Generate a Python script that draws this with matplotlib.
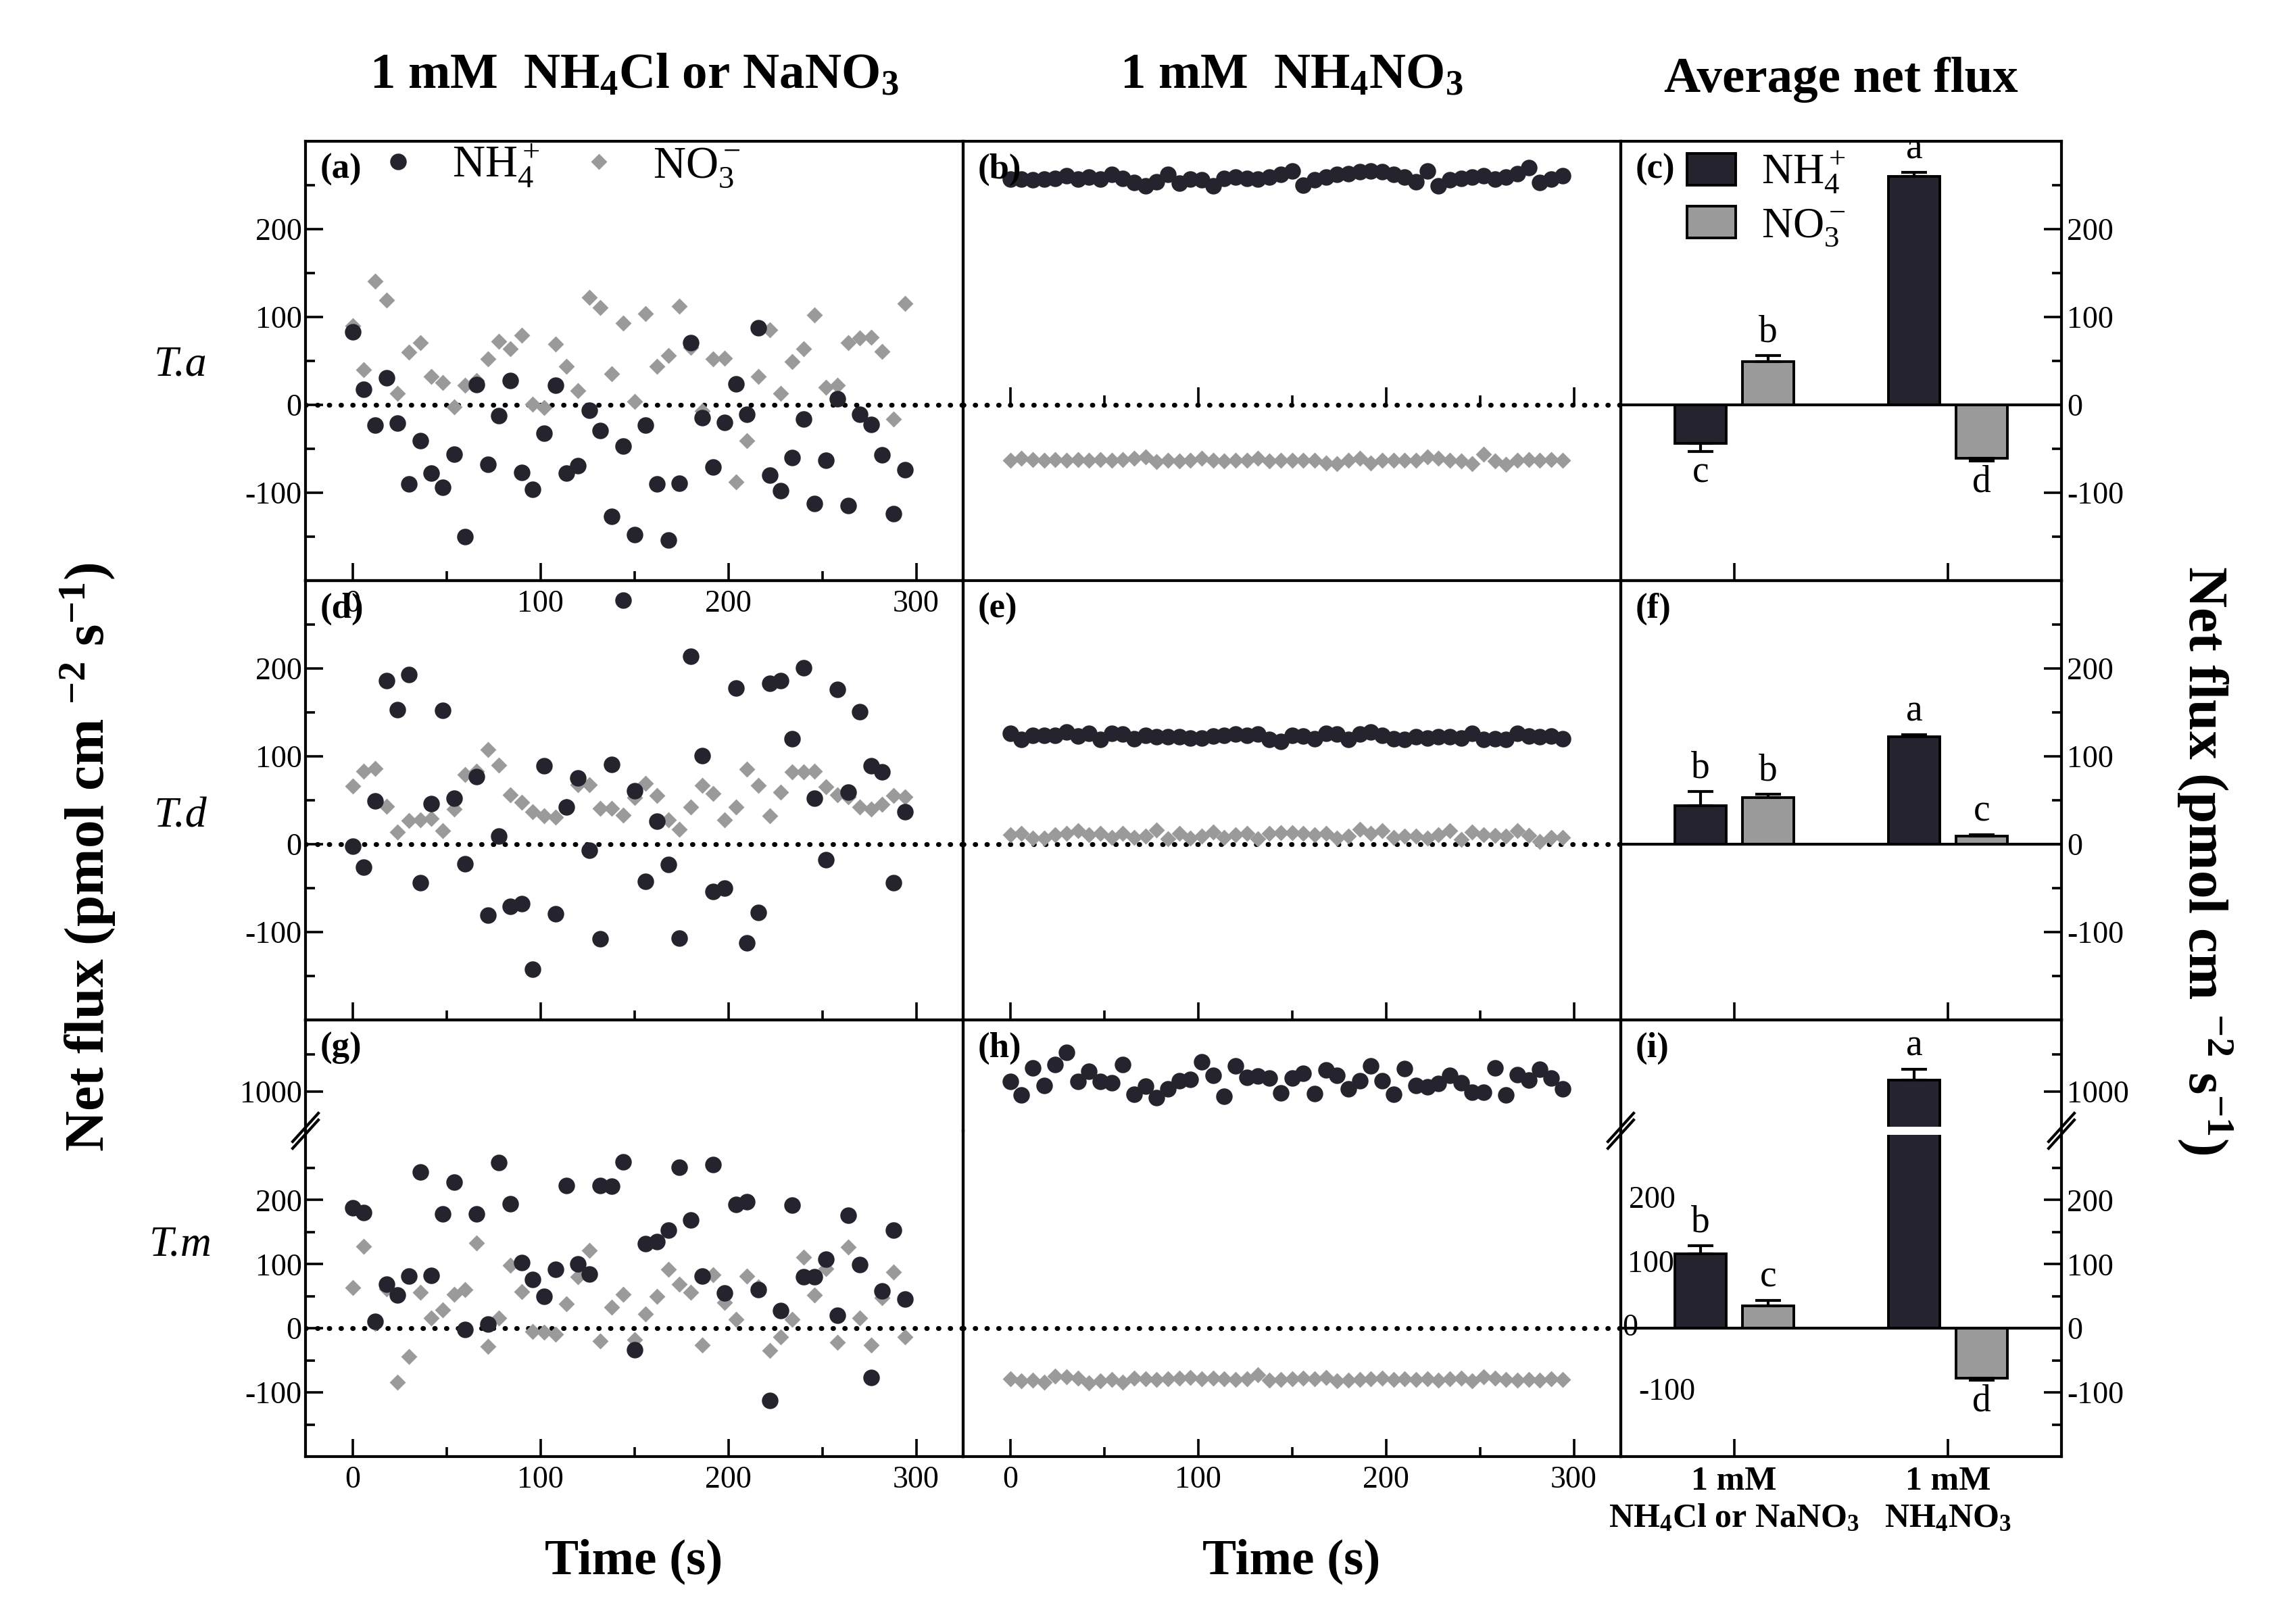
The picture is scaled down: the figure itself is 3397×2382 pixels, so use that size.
import matplotlib.pyplot as plt
from matplotlib.lines import Line2D
from matplotlib.patches import Patch

plt.rcParams['font.family'] = 'Liberation Serif'
plt.rcParams['mathtext.fontset'] = 'custom'
plt.rcParams['mathtext.rm'] = 'Liberation Serif'
plt.rcParams['mathtext.it'] = 'Liberation Serif:italic'
plt.rcParams['mathtext.bf'] = 'Liberation Serif:bold'
plt.rcParams['axes.linewidth'] = 1.5
plt.rcParams['axes.unicode_minus'] = False

# ---------------- data ----------------
time_s = [0, 6, 12, 18, 24, 30, 36, 42, 48, 54, 60, 66, 72, 78, 84, 90, 96, 102, 108, 114,
          120, 126, 132, 138, 144, 150, 156, 162, 168, 174, 180, 186, 192, 198, 204, 210,
          216, 222, 228, 234, 240, 246, 252, 258, 264, 270, 276, 282, 288, 294]

# T.a : (a) single salt, (b) NH4NO3
ta_nh4_single = [83, 18, -23, 31, -21, -90, -41, -78, -94, -56, -150, 23, -68, -12, 28, -77, -96, -32, 22, -78,
                 -69, -6, -29, -127, -47, -148, -23, -90, -154, -89, 71, -15, -71, -20, 24, -11, 88, -80, -98, -60,
                 -16, -112, -63, 7, -115, -11, -22, -57, -124, -74]
ta_no3_single = [90, 40, 141, 119, 13, 60, 71, 32, 25, -2, 22, 28, 52, 72, 64, 79, 1, -3, 69, 44,
                 16, 122, 111, 35, 93, 4, 104, 44, 56, 112, 65, -7, 52, 53, -88, -41, 32, 85, 13, 49,
                 64, 102, 20, 22, 71, 76, 77, 61, -16, 115]
ta_nh4_mix = [257, 257, 256, 257, 258, 261, 257, 259, 257, 262, 258, 253, 249, 254, 262, 252, 257, 256, 249, 258,
              259, 258, 257, 259, 262, 266, 250, 256, 259, 262, 263, 265, 266, 265, 262, 259, 254, 266, 249, 256,
              258, 259, 261, 257, 259, 263, 270, 253, 257, 261]
ta_no3_mix = [-63, -61, -62, -63, -62, -63, -62, -63, -62, -63, -62, -61, -59, -65, -63, -64, -63, -61, -63, -64,
              -63, -63, -61, -64, -63, -63, -63, -63, -66, -67, -63, -61, -66, -63, -63, -63, -63, -59, -61, -63,
              -64, -67, -56, -64, -68, -63, -62, -63, -62, -63]

# T.d : (d) single salt, (e) NH4NO3
td_nh4_single = [-2, -26, 49, 186, 153, 193, -44, 46, 152, 52, -22, 77, -81, 9, -71, -68, -142, 89, -79, 42,
                 75, -7, -108, 91, 278, 61, -42, 26, -23, -107, 214, 101, -54, -50, 178, -112, -78, 183, 186, 120,
                 201, 52, -18, 176, 59, 151, 89, 82, -44, 37]
td_no3_single = [66, 83, 86, 43, 14, 27, 28, 29, 15, 40, 79, 83, 108, 90, 56, 48, 37, 32, 31, 43,
                 68, 68, 41, 41, 33, 53, 69, 55, 28, 17, 42, 67, 58, 28, 42, 85, 67, 32, 59, 82,
                 82, 83, 65, 56, 54, 42, 40, 45, 55, 54]
td_nh4_mix = [126, 119, 124, 124, 124, 128, 123, 126, 119, 126, 125, 120, 124, 122, 122, 122, 121, 121, 123, 124,
              125, 124, 125, 119, 117, 124, 123, 120, 126, 125, 119, 125, 128, 124, 120, 119, 122, 121, 122, 122,
              121, 126, 119, 120, 119, 126, 123, 122, 123, 120]
td_no3_mix = [11, 12, 7, 7, 11, 12, 15, 11, 12, 8, 12, 8, 9, 16, 6, 12, 7, 9, 14, 8,
              11, 12, 6, 12, 13, 13, 12, 11, 12, 7, 9, 17, 12, 15, 8, 9, 9, 7, 11, 15,
              5, 14, 11, 10, 9, 15, 10, 3, 8, 8]

# T.m : (g) single salt, (h) NH4NO3
tm_nh4_single = [188, 181, 11, 69, 52, 81, 244, 82, 178, 228, -2, 178, 7, 258, 194, 102, 76, 50, 92, 223,
                 100, 85, 223, 222, 259, -33, 132, 135, 153, 251, 169, 81, 255, 55, 193, 197, 60, -113, 28, 192,
                 80, 80, 108, 20, 176, 99, -77, 58, 153, 46]
tm_no3_single = [64, 128, 8, 61, -84, -44, 56, 16, 29, 53, 60, 133, -28, 16, 98, 57, -5, -6, -9, 38,
                 80, 121, -20, 33, 53, -18, 22, 50, 92, 69, 56, -26, 83, 40, 14, 81, 65, -35, -13, 14,
                 111, 52, 93, -22, 127, 16, -26, 48, 88, -13]
tm_nh4_mix = [1067, 976, 1157, 1040, 1183, 1262, 1066, 1137, 1070, 1060, 1181, 980, 1036, 960, 1016, 1073, 1081,
              1198, 1111, 966, 1173, 1097, 1103, 1091, 990, 1093, 1123, 986, 1147, 1111, 1016, 1073, 1171, 1073,
              980, 1153, 1040, 1030, 1056, 1107, 1060, 996, 996, 1161, 976, 1115, 1077, 1151, 1091, 1016]
tm_no3_mix = [-79, -82, -81, -84, -75, -76, -78, -85, -82, -80, -84, -78, -79, -80, -79, -78, -77, -79, -78, -79,
              -80, -79, -72, -81, -80, -79, -78, -79, -77, -82, -81, -80, -79, -78, -80, -79, -80, -79, -81, -79,
              -78, -82, -76, -78, -80, -81, -80, -81, -79, -80]

# average net flux (mean, SE) for the two treatments
treatments = ['1 mM\nNH$_\\mathbf{4}$Cl or NaNO$_\\mathbf{3}$', '1 mM\nNH$_\\mathbf{4}$NO$_\\mathbf{3}$']
ta_nh4_mean, ta_nh4_se, ta_nh4_let = [-44, 260], [9, 4.5], ['c', 'a']
ta_no3_mean, ta_no3_se, ta_no3_let = [49, -61], [7.5, 2.5], ['b', 'd']
td_nh4_mean, td_nh4_se, td_nh4_let = [44, 122], [16, 2.5], ['b', 'a']
td_no3_mean, td_no3_se, td_no3_let = [53, 9], [4, 2], ['b', 'c']
tm_nh4_mean, tm_nh4_se, tm_nh4_let = [116, 1075], [13, 75], ['b', 'a']
tm_no3_mean, tm_no3_se, tm_no3_let = [35, -78], [8.5, 2.5], ['c', 'd']

# ---------------- layout ----------------
W, H = 3397, 2382
fig = plt.figure(figsize=(W / 200, H / 200), dpi=200)
cols = [452, 1425, 2398, 3050]
rows = [209, 859, 1509, 2155]
brk = 1673

C_NH4 = '#25242e'
C_NO3 = '#9a9a9a'
TICK_FS = 16.5


def add_ax(x0, x1, y0, y1):
    ax = fig.add_axes([x0 / W, 1 - y1 / H, (x1 - x0) / W, (y1 - y0) / H])
    ax.set_facecolor('none')
    ax.tick_params(which='both', direction='in', width=1.3, labelsize=TICK_FS)
    ax.tick_params(which='major', length=9.5, pad=5)
    ax.tick_params(which='minor', length=5)
    return ax


def y_ticks(ax, upper=False):
    if upper:
        ax.set_ylim(736, 1482)
        ax.set_yticks([1000])
        ax.set_yticks([1250], minor=True)
    else:
        ax.set_yticks([-100, 0, 100, 200])
        ax.set_yticks([-150, -50, 50, 150, 250], minor=True)


def time_axes(ax, col, labels):
    ax.set_xlim(-25, 325)
    ax.set_xticks([0, 100, 200, 300])
    ax.set_xticks([50, 150, 250], minor=True)
    ax.tick_params(axis='x', which='both', top=False, labelbottom=labels)
    if col == 0:
        ax.tick_params(axis='y', which='both', left=True, right=False, labelleft=True, pad=2)
    else:
        ax.tick_params(axis='y', which='both', left=False, right=False, labelleft=False)


def bar_axes(ax, labels):
    ax.set_xlim(0.47, 2.53)
    ax.set_xticks([1, 2])
    ax.tick_params(axis='x', which='both', top=False, labelbottom=labels)
    if labels:
        ax.set_xticklabels(treatments, fontsize=18, fontweight='bold', linespacing=1.25)
    ax.yaxis.tick_right()
    ax.tick_params(axis='y', which='both', left=False, right=True, labelright=True, pad=3)


def scatter(ax, nh4, no3):
    ax.plot(time_s, no3, 'D', ms=5.2, color=C_NO3, zorder=3)
    ax.plot(time_s, nh4, 'o', ms=7.8, color=C_NH4, zorder=4)


def dotted_zero(ax):
    ax.axhline(0, color='black', lw=2.6, linestyle=(0, (0.1, 2.3)), dash_capstyle='round', zorder=2)


def bars(ax, nh4_m, nh4_se, nh4_l, no3_m, no3_se, no3_l):
    for pos_off, means, ses, lets, col in [(-0.158, nh4_m, nh4_se, nh4_l, C_NH4),
                                          (0.158, no3_m, no3_se, no3_l, C_NO3)]:
        xs = [1 + pos_off, 2 + pos_off]
        ax.bar(xs, means, width=0.24, color=col, edgecolor='black', linewidth=1.4, zorder=2)
        lo = [s if m < 0 else 0 for m, s in zip(means, ses)]
        hi = [s if m >= 0 else 0 for m, s in zip(means, ses)]
        ax.errorbar(xs, means, yerr=[lo, hi], fmt='none', ecolor='black', elinewidth=1.5,
                    capsize=7, capthick=1.5, zorder=3)
        for x, m, s, t in zip(xs, means, ses, lets):
            if m >= 0:
                ax.annotate(t, (x, m + s), xytext=(0, 3), textcoords='offset points',
                            ha='center', va='bottom', fontsize=20)
            else:
                ax.annotate(t, (x, m - s), xytext=(0, -2), textcoords='offset points',
                            ha='center', va='top', fontsize=20)
    ax.axhline(0, color='black', lw=1.5, zorder=2.4)


def panel_label(x, y, s):
    fig.text((x + 22) / W, 1 - (y + 18) / H, s, fontsize=19, fontweight='bold', ha='left', va='top')


# rows 1 and 2 (T.a, T.d)
row_data = [(ta_nh4_single, ta_no3_single, ta_nh4_mix, ta_no3_mix,
             (ta_nh4_mean, ta_nh4_se, ta_nh4_let, ta_no3_mean, ta_no3_se, ta_no3_let)),
            (td_nh4_single, td_no3_single, td_nh4_mix, td_no3_mix,
             (td_nh4_mean, td_nh4_se, td_nh4_let, td_no3_mean, td_no3_se, td_no3_let))]
plabels = [['(a)', '(b)', '(c)'], ['(d)', '(e)', '(f)']]

for r, (n1, o1, n2, o2, bdat) in enumerate(row_data):
    y0, y1 = rows[r], rows[r + 1]
    ax1 = add_ax(cols[0], cols[1], y0, y1)
    scatter(ax1, n1, o1)
    dotted_zero(ax1)
    ax1.set_ylim(-200, 300)
    y_ticks(ax1)
    time_axes(ax1, 0, labels=(r == 0))

    ax2 = add_ax(cols[1], cols[2], y0, y1)
    scatter(ax2, n2, o2)
    dotted_zero(ax2)
    ax2.set_ylim(-200, 300)
    y_ticks(ax2)
    time_axes(ax2, 1, labels=False)
    if r == 0:
        ax2.spines['bottom'].set_position(('data', 0))
        ax2.spines['bottom'].set_color('none')

    ax3 = add_ax(cols[2], cols[3], y0, y1)
    bars(ax3, *bdat)
    ax3.set_ylim(-200, 300)
    y_ticks(ax3)
    bar_axes(ax3, labels=False)

    for c in range(3):
        panel_label(cols[c], y0, plabels[r][c])

    if r == 0:
        h_leg = [Line2D([], [], marker='o', ls='none', ms=7.8, color=C_NH4),
                 Line2D([], [], marker='D', ls='none', ms=5.2, color=C_NO3)]
        ax1.legend(h_leg, ['NH$_4^+$', 'NO$_3^-$'], loc='upper left', bbox_to_anchor=(0.1, 1.02),
                   ncol=2, frameon=False, fontsize=24, handlelength=0.8, handletextpad=0.8,
                   columnspacing=0.9, borderaxespad=0, borderpad=0.2)
        b_leg = [Patch(facecolor=C_NH4, edgecolor='black', linewidth=1.4),
                 Patch(facecolor=C_NO3, edgecolor='black', linewidth=1.4)]
        ax3.legend(b_leg, ['NH$_4^+$', 'NO$_3^-$'], loc='upper left', bbox_to_anchor=(0.13, 1.0),
                   frameon=False, fontsize=23, handlelength=1.13, handleheight=0.75,
                   handletextpad=0.6, labelspacing=0.25, borderaxespad=0, borderpad=0.2)

# row 3 (T.m) with broken y axis
y0, y1 = rows[2], rows[3]
for c in range(3):
    up = add_ax(cols[c], cols[c + 1], y0, brk)
    lo = add_ax(cols[c], cols[c + 1], brk, y1)
    up.spines['bottom'].set_visible(False)
    lo.spines['top'].set_visible(False)
    for ax in (up, lo):
        if c == 0:
            scatter(ax, tm_nh4_single, tm_no3_single)
        elif c == 1:
            scatter(ax, tm_nh4_mix, tm_no3_mix)
        else:
            bars(ax, tm_nh4_mean, tm_nh4_se, tm_nh4_let, tm_no3_mean, tm_no3_se, tm_no3_let)
    lo.set_ylim(-200, 308)
    y_ticks(lo)
    y_ticks(up, upper=True)
    if c < 2:
        dotted_zero(lo)
        time_axes(lo, c, labels=True)
        time_axes(up, c, labels=False)
    else:
        bar_axes(lo, labels=True)
        bar_axes(up, labels=False)
        up.axhspan(736, 763, color='white', lw=0, zorder=2.2)
        lo.axhspan(301.5, 308, color='white', lw=0, zorder=2.2)
        for v, xf in [(200, 0.018), (100, 0.015), (0, 0.003), (-100, 0.04)]:
            lo.text(xf, v, str(v), transform=lo.get_yaxis_transform(), ha='left', va='center',
                    fontsize=TICK_FS)
    up.tick_params(axis='x', which='both', bottom=False, labelbottom=False)
    panel_label(cols[c], y0, ['(g)', '(h)', '(i)'][c])

# break marks on the broken spines
for xs in [cols[0], cols[2], cols[3]]:
    for dy in (-5, 5):
        fig.add_artist(Line2D([(xs - 19) / W, (xs + 19) / W],
                              [1 - (brk + dy + 21) / H, 1 - (brk + dy - 21) / H],
                              color='black', lw=1.5))

# ---------------- text ----------------
def ftext(x, y, s, **kw):
    fig.text(x / W, 1 - y / H, s, ha='center', va='center', **kw)


ftext(938, 112, '1 mM  NH$_\\mathbf{4}$Cl or NaNO$_\\mathbf{3}$', fontsize=27, fontweight='bold')
ftext(1911, 112, '1 mM  NH$_\\mathbf{4}$NO$_\\mathbf{3}$', fontsize=27, fontweight='bold')
ftext(2724, 118, 'Average net flux', fontsize=27, fontweight='bold')
ftext(938, 2310, 'Time (s)', fontsize=27, fontweight='bold')
ftext(1911, 2310, 'Time (s)', fontsize=27, fontweight='bold')
ylab = 'Net flux (pmol cm $^{\\mathbf{-2}}$ s$^{\\mathbf{-1}}$)'
ftext(130, 1268, ylab, fontsize=30, fontweight='bold', rotation=90)
ftext(3262, 1273, ylab, fontsize=30, fontweight='bold', rotation=270)
ftext(267, 541, 'T.a', fontsize=23, style='italic')
ftext(267, 1208, 'T.d', fontsize=23, style='italic')
ftext(267, 1842, 'T.m', fontsize=23, style='italic')

fig.savefig('out.png', dpi=200, facecolor='white')
